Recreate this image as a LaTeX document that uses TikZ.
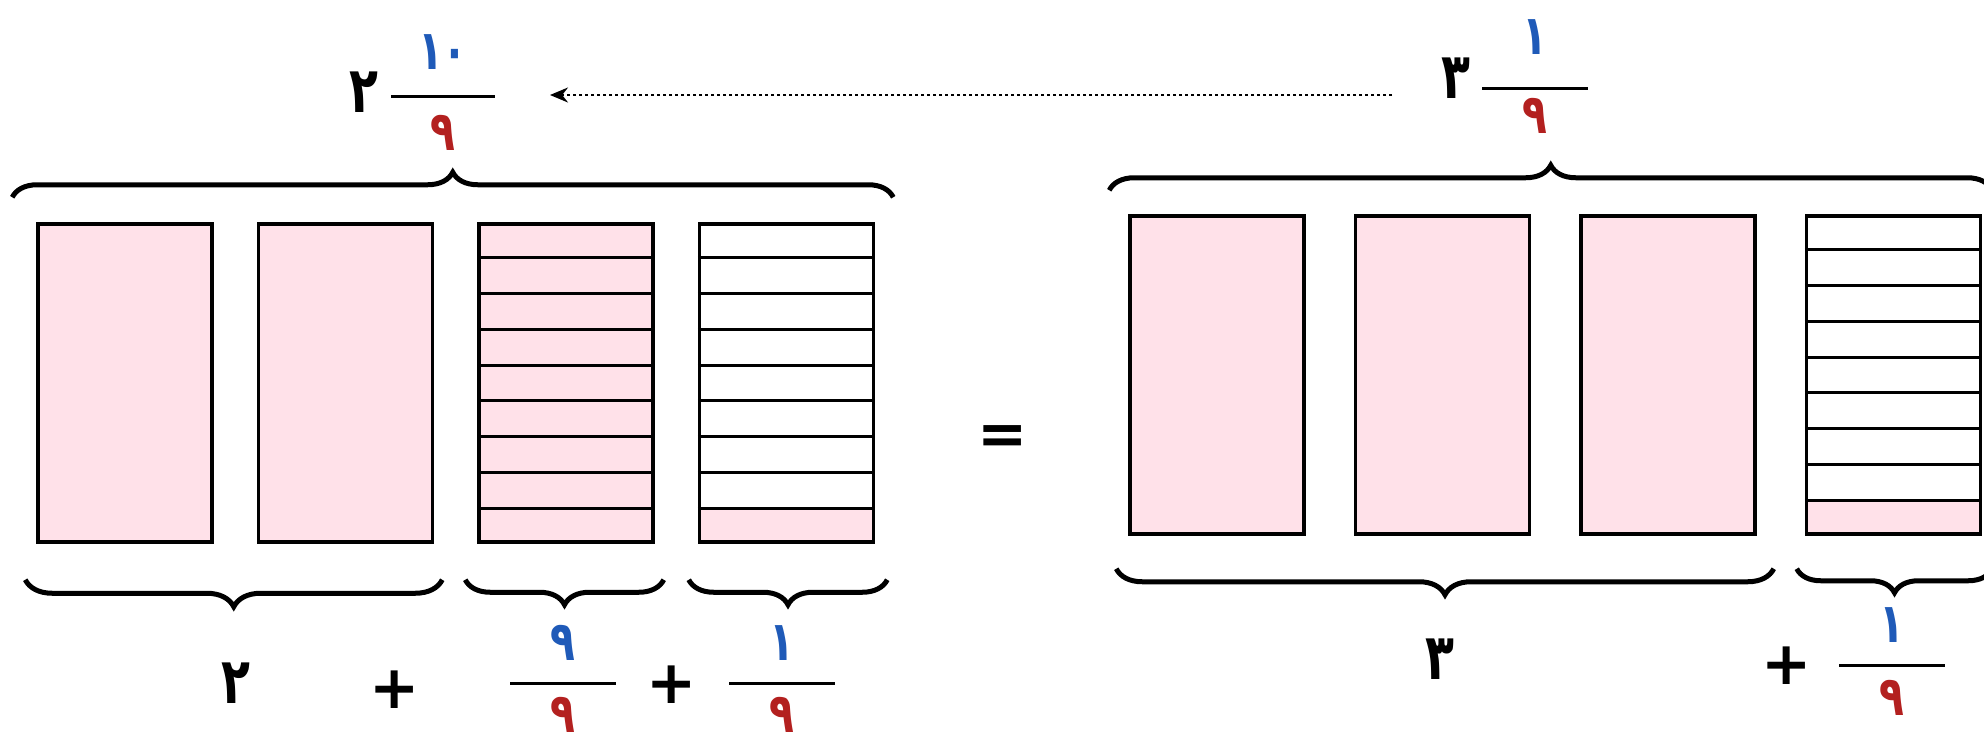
\documentclass[tikz,border=0pt]{standalone}
\usepackage{fontspec}
\usepackage{graphicx}
\newfontfamily\arabicfont[Script=Arabic]{DejaVu Sans}
\usetikzlibrary{
    positioning,
    arrows.meta,
    decorations.pathreplacing,
    calc,
    backgrounds
}
\definecolor{barpink}{HTML}{FFE1E9}
\definecolor{numblue}{HTML}{1F5AB8}
\definecolor{denred}{HTML}{B3201F}
% narrow Arabic-Indic digits
\newcommand{\ardig}[1]{\scalebox{0.74}[1]{#1}}

\begin{document}
\begin{tikzpicture}[
    x=1pt, y=-1pt,
    bar/.style={
        rectangle,
        draw,
        line width=3.5pt,
        inner sep=0pt,
        minimum width=174pt,
        minimum height=318pt,
    },
    pinkbar/.style={bar, fill=barpink},
    stripe/.style={line width=3pt},
    curly/.style={
        decorate,
        decoration={brace, amplitude=#1},
        line width=5pt,
    },
    whole/.style={
        inner sep=0pt,
        font=\arabicfont\bfseries\fontsize{64}{70}\selectfont,
    },
    sign/.style={
        inner sep=0pt,
        font=\arabicfont\bfseries\fontsize{60}{66}\selectfont,
    },
    num/.style={
        inner sep=0pt,
        text=numblue,
        font=\arabicfont\bfseries\fontsize{55}{60}\selectfont,
    },
    den/.style={num, text=denred},
    fracbar/.style={line width=3pt},
    dotarrow/.style={
        line width=2.2pt,
        dash pattern=on 3pt off 3pt,
        -{Stealth[length=18pt, width=15pt]},
    },
]
    \useasboundingbox (0,0) rectangle (1984,745);

    % left side: 2 + 9/9 + 1/9
    \node[pinkbar] (L1) at (125,383) {};
    \node[pinkbar] (L2) [right=43pt of L1] {};
    \node[pinkbar] (L3) [right=43pt of L2] {};
    \node[bar]     (L4) [right=43pt of L3] {};

    % right side: 3 + 1/9
    \node[pinkbar] (R1) at (1217,375) {};
    \node[pinkbar] (R2) [right=48pt of R1] {};
    \node[pinkbar] (R3) [right=48pt of R2] {};
    \node[bar]     (R4) [right=48pt of R3] {};

    \begin{scope}[on background layer]
        \foreach \b in {L4,R4}
            \fill[barpink] ($(\b.north west)!8/9!(\b.south west)$) rectangle (\b.south east);
    \end{scope}
    \foreach \b in {L3,L4,R4}
        \foreach \k in {1,...,8}
            \draw[stripe] ($(\b.north west)!\k/9!(\b.south west)$) -- ($(\b.north east)!\k/9!(\b.south east)$);

    % braces
    \draw[curly=25pt] ($(L1.north west)+(-24,-25)$) -- ($(L4.north east)+(18,-25)$);
    \draw[curly=25pt] ($(R1.north west)+(-19,-24)$) -- ($(R4.north east)+(10,-24)$);
    \draw[curly={27pt}, decoration={mirror}] ($(L1.south west)+(-11,36)$) -- ($(L2.south east)+(8,36)$);
    \draw[curly={25pt}, decoration={mirror}] ($(L3.south west)+(-12,36)$) -- ($(L3.south east)+(9,36)$);
    \draw[curly={25pt}, decoration={mirror}] ($(L4.south west)+(-9,36)$) -- ($(L4.south east)+(12,36)$);
    \draw[curly={26pt}, decoration={mirror}] ($(R1.south west)+(-12,33)$) -- ($(R3.south east)+(17,33)$);
    \draw[curly={24pt}, decoration={mirror}] ($(R4.south west)+(-8,33)$) -- ($(R4.south east)+(10,33)$);

    % bottom labels
    \node[whole] (twoB) at (236,683) {\ardig{٢}};
    \node[sign] (plusB1) at (395,690) {+};
    \coordinate (fracB1) at (563,683);
    \draw[fracbar] ([xshift=-53pt]fracB1) -- ([xshift=53pt]fracB1);
    \node[num, above=22pt of fracB1] (fracB1-num) {\ardig{٩}};
    \node[den, below=14pt of fracB1] (fracB1-den) {\ardig{٩}};
    \node[sign] (plusB2) at (672,685) {+};
    \coordinate (fracB2) at (782,683);
    \draw[fracbar] ([xshift=-53pt]fracB2) -- ([xshift=53pt]fracB2);
    \node[num, above=22pt of fracB2] (fracB2-num) {\ardig{١}};
    \node[den, below=14pt of fracB2] (fracB2-den) {\ardig{٩}};

    \node[whole] (threeB) at (1440,659) {\ardig{٣}};
    \node[sign] (plusB3) at (1787,666) {+};
    \coordinate (fracB3) at (1892,665);
    \draw[fracbar] ([xshift=-53pt]fracB3) -- ([xshift=53pt]fracB3);
    \node[num, above=22pt of fracB3] (fracB3-num) {\ardig{١}};
    \node[den, below=15pt of fracB3] (fracB3-den) {\ardig{٩}};

    % top labels
    \node[whole] (twoT) at (364,92) {\ardig{٢}};
    \coordinate (fracT1) at (443,96);
    \draw[fracbar] ([xshift=-52pt]fracT1) -- ([xshift=52pt]fracT1);
    \node[num, above=26pt of fracT1] (fracT1-num) {\ardig{١٠}};
    \node[den, below=19pt of fracT1] (fracT1-den) {\ardig{٩}};

    \node[whole] (threeT) at (1456,78) {\ardig{٣}};
    \coordinate (fracT2) at (1535,88);
    \draw[fracbar] ([xshift=-53pt]fracT2) -- ([xshift=53pt]fracT2);
    \node[num, above=33pt of fracT2] (fracT2-num) {\ardig{١}};
    \node[den, below=10pt of fracT2] (fracT2-den) {\ardig{٩}};

    \node[sign] (eq) at (1003,440) {=};

    \coordinate (arrowstart) at (1392,95);
    \coordinate (arrowend) at (550,95);
    \draw[dotarrow] (arrowstart) -- (arrowend);
\end{tikzpicture}
\end{document}
